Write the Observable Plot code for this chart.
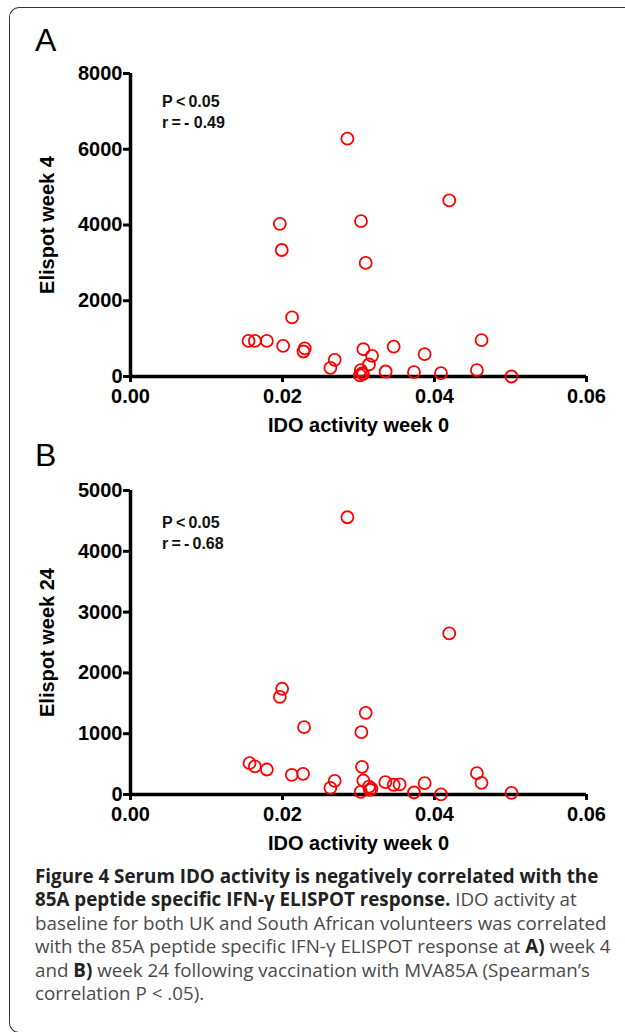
<!DOCTYPE html>
<html>
<head>
<meta charset="utf-8">
<script src="https://cdn.jsdelivr.net/npm/d3@7"></script>
<script src="https://cdn.jsdelivr.net/npm/@observablehq/plot@0.6"></script>
<style>
  html, body { margin: 0; padding: 0; background: #fff; }
  #fig { position: relative; width: 625px; height: 1032px; overflow: hidden; }
  #frame { position: absolute; left: 9px; top: 7px; width: 640px; height: 1026px;
           border: 1.5px solid #333; border-right: none; border-radius: 10px 0 0 10px; box-sizing: border-box; }
  .panel { position: absolute; left: 0; }
  .plabel { position: absolute; left: 35px; font-family: "Liberation Sans", Arial, sans-serif; font-size: 32px; line-height: 1; }
  .stat { position: absolute; left: 162px; font-family: "Liberation Sans", Arial, sans-serif; font-weight: bold; font-size: 16px; line-height: 21px; color: #111; }
  #caption { position: absolute; left: 35px; top: 865px; font-family: "Open Sans", sans-serif; font-size: 18.8px; line-height: 23.4px; color: #4a4a4a; white-space: nowrap; }
  #caption b { color: #222; }
</style>
</head>
<body>
<div id="fig">
  <div id="frame"></div>
  <div class="plabel" style="top:24px">A</div>
  <div class="plabel" style="top:439px">B</div>
  <div id="panelA" class="panel" style="top:0px"></div>
  <div id="panelB" class="panel" style="top:417px"></div>
  <div class="stat" style="top:91px">P&thinsp;&lt;&thinsp;0.05<br>r&thinsp;=&thinsp;-&nbsp;0.49</div>
  <div class="stat" style="top:512px">P&thinsp;&lt;&thinsp;0.05<br>r&thinsp;=&thinsp;-&thinsp;0.68</div>
  <div id="caption"><b>Figure 4 Serum IDO activity is negatively correlated with the</b><br><b>85A peptide specific IFN-γ ELISPOT response.</b> IDO activity at<br>baseline for both UK and South African volunteers was correlated<br>with the 85A peptide specific IFN-γ ELISPOT response at <b>A)</b> week 4<br>and <b>B)</b> week 24 following vaccination with MVA85A (Spearman’s<br>correlation P &lt; .05).</div>
</div>
<script>
// Panel A: IDO activity week 0 vs Elispot week 4
const idoA = [0.02854, 0.04194, 0.01965, 0.03033, 0.0199, 0.03095, 0.02126, 0.01553, 0.01636, 0.01794,
              0.02008, 0.02276, 0.02293, 0.0263, 0.02687, 0.03064, 0.03178, 0.03138, 0.0303, 0.0305,
              0.0302, 0.0306, 0.03463, 0.03357, 0.0387, 0.0373, 0.04085, 0.04619, 0.04558, 0.05013];
const elispotA = [6280, 4650, 4030, 4100, 3340, 3000, 1560, 940, 940, 940,
                  810, 660, 740, 230, 440, 720, 546, 317, 170, 90,
                  30, 60, 790, 132, 590, 114, 88, 958, 167, 0];
// Panel B: IDO activity week 0 vs Elispot week 24
const idoB = [0.02854, 0.04194, 0.01995, 0.01965, 0.02284, 0.03095, 0.03038, 0.01566, 0.01636, 0.01794,
              0.02122, 0.02271, 0.0263, 0.02687, 0.03046, 0.03064, 0.03029, 0.03138, 0.0317, 0.0315,
              0.03353, 0.03463, 0.03541, 0.0373, 0.0387, 0.04085, 0.04558, 0.04619, 0.05013];
const elispotB = [4560, 2650, 1739, 1607, 1107, 1344, 1025, 515, 461, 411,
                  324, 340, 110, 225, 455, 230, 44, 130, 95, 75,
                  203, 160, 165, 33, 186, 3, 350, 192, 28];

const xTicks = [0, 0.02, 0.04, 0.06];
const yTicksA = [0, 2000, 4000, 6000, 8000];
const yTicksB = [0, 1000, 2000, 3000, 4000, 5000];
const xLabel = "IDO activity week 0";

function panel(xs, ys, yTicks, yMax, yLabel, marginTop, yZeroPx, svgHeight) {
  const data = xs.map((x, i) => ({x, y: ys[i]}));
  return Plot.plot({
    width: 625,
    height: svgHeight,
    marginLeft: 130,
    marginRight: 39,
    marginTop: marginTop,
    marginBottom: svgHeight - yZeroPx,
    style: {fontFamily: "'Liberation Sans', Arial, sans-serif", fontWeight: "bold", fontSize: "20px", color: "#000", overflow: "visible"},
    x: {domain: [0, 0.06], ticks: xTicks, tickFormat: d3.format(".2f")},
    y: {domain: [0, yMax], ticks: yTicks, tickFormat: d3.format("d")},
    marks: [
      Plot.axisX({ticks: xTicks, tickFormat: d3.format(".2f"), tickSize: 6, tickPadding: 6, strokeWidth: 3,
                  label: xLabel, labelAnchor: "center", labelArrow: "none", labelOffset: 55, fontSize: 20}),
      Plot.axisY({ticks: yTicks, tickFormat: d3.format("d"), tickSize: 7, tickPadding: 1, strokeWidth: 3,
                  label: yLabel, labelAnchor: "center", labelArrow: "none", labelOffset: 91, fontSize: 20}),
      Plot.ruleY([0], {x1: 0, x2: 0.06, strokeWidth: 3.5, stroke: "#000"}),
      Plot.ruleX([0], {y1: 0, y2: yMax, strokeWidth: 3.5, stroke: "#000"}),
      Plot.dot(data, {x: "x", y: "y", r: 6, stroke: "#ff0000", strokeWidth: 1.8, fill: "none"})
    ]
  });
}

document.getElementById("panelA").appendChild(panel(idoA, elispotA, yTicksA, 8000, "Elispot week 4", 73, 376, 445));
document.getElementById("panelB").appendChild(panel(idoB, elispotB, yTicksB, 5000, "Elispot week 24", 490 - 417, 794 - 417, 445));
</script>
</body>
</html>
